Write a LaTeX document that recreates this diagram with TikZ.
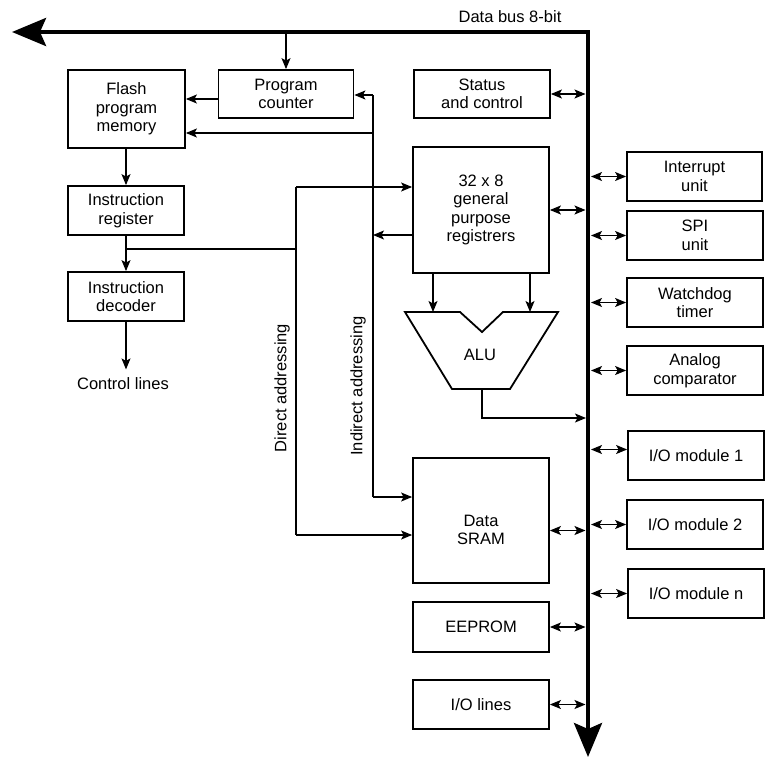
\documentclass[tikz,border=0pt]{standalone}
\usepackage{fontspec}
\setmainfont{Liberation Sans}
\usetikzlibrary{arrows.meta,positioning,calc}

\begin{document}
\begin{tikzpicture}[x=1pt,y=-1pt,
  txt/.style={font=\fontsize{16.5}{18.5}\selectfont,align=center},
  blk/.style={txt,draw,line width=1.8pt,inner sep=0pt,
              minimum width=136pt,minimum height=49pt},
  conn/.style={line width=1.2pt,-{Stealth[length=11pt,width=9pt,inset=2.5pt]}},
  wire/.style={line width=1.2pt},
  dbl/.style={line width=1.2pt,{Stealth[length=11pt,width=9pt,inset=2.5pt]}-{Stealth[length=11pt,width=9pt,inset=2.5pt]}},
  busline/.style={line width=4pt,line join=miter,
                  {Stealth[length=34pt,width=28pt,inset=6pt]}-{Stealth[length=34pt,width=28pt,inset=6pt]}}
]
  \useasboundingbox (0,0) rectangle (776,763);

  \coordinate (busL) at (12,32);
  \coordinate (busC) at (588,32);
  \coordinate (busB) at (588,757);
  \draw[busline] (busL) -- (busC) -- (busB);
  \node[txt] (buslab) at (510,17) {Data bus 8-bit};

  \node[blk,minimum width=117pt,minimum height=78pt] (flash) at (126.5,109) {Flash\\program\\memory};
  \node[blk,minimum width=135pt,minimum height=48pt] (pc) at (286,94) {Program\\counter};
  \node[blk,minimum height=48pt] (stat) at (482,94) {Status\\and control};
  \node[blk,minimum width=116pt] (ir) at (126,210.5) {Instruction\\register};
  \node[blk,minimum width=116pt] (idec) at (126,296.5) {Instruction\\decoder};
  \node[txt] (ctl) at (123,384) {Control lines};

  \node[blk,minimum height=126pt] (regs) at (481,210) {32 x 8\\general\\purpose\\registrers};
  \node[blk,minimum height=125pt] (sram) at (481,520.5) {};
  \node[txt] (sramtxt) at (481,530) {Data\\SRAM};
  \node[blk,minimum height=50pt] (eep) at (481,627) {EEPROM};
  \node[blk] (iol) at (481,704.5) {I/O lines};

  \node[blk,minimum width=135pt] (intr) at (694.5,176.5) {Interrupt\\unit};
  \node[blk] (spi) at (695,235.5) {SPI\\unit};
  \node[blk] (wdt) at (695,302.5) {Watchdog\\timer};
  \node[blk] (acmp) at (695,370.5) {Analog\\comparator};
  \node[blk] (io1) at (696,455.5) {I/O module 1};
  \node[blk] (io2) at (695,524.5) {I/O module 2};
  \node[blk] (ion) at (696,593.5) {I/O module n};

  % ALU
  \draw[line width=1.8pt,line join=miter] (405,312) -- (460,312) -- (482,332) -- (503,312)
    -- (558,312) -- (510,389) -- (452,389) -- cycle;
  \node[txt] (alu) at (480,355) {ALU};
  \coordinate (alul) at (433,312);
  \coordinate (alur) at (530,312);
  \coordinate (aluo) at (482,389);
  \coordinate (aluend) at (586,418);

  \coordinate (indtop) at (373,95);
  \coordinate (indfl) at (373,133);
  \coordinate (indbot) at (373,497);
  \coordinate (dirtop) at (296,187);
  \coordinate (dirjn) at (296,249);
  \coordinate (dirbot) at (296,535);

  \node[txt,rotate=90] (dirlab) at (282,388) {Direct addressing};
  \node[txt,rotate=90] (indlab) at (358,386) {Indirect addressing};

  \draw[conn] (pc.north |- busL) -- (pc.north);
  \draw[conn] ([yshift=-5pt]pc.west) -- ([yshift=-5pt]pc.west -| flash.east);
  \draw[conn] (ir.north |- flash.south) -- (ir.north);
  \draw[conn] (ir.south) -- (idec.north);
  \draw[conn,shorten >=5pt] (idec.south) -- (idec.south |- ctl.north);

  \draw[wire] (indtop) -- (indbot);
  \draw[conn] (indtop) -- (indtop -| pc.east);
  \draw[conn] (indfl) -- (indfl -| flash.east);
  \draw[conn] (indbot) -- (indbot -| sram.west);
  \draw[conn] ([yshift=-25pt]regs.west) -- ([yshift=-25pt]regs.west -| indtop);

  \draw[wire] (dirtop) -- (dirbot);
  \draw[wire] (ir.south |- dirjn) -- (dirjn);
  \draw[conn] (dirtop) -- (dirtop -| regs.west);
  \draw[conn] (dirbot) -- (dirbot -| sram.west);

  \draw[conn] (regs.south -| alul) -- (alul);
  \draw[conn] (regs.south -| alur) -- (alur);
  \draw[conn] (aluo) |- (aluend);

  \foreach \n in {stat,regs,eep,iol}
    \draw[dbl,shorten >=2.5pt] (\n.east) -- (\n.east -| busC);
  \draw[dbl,shorten >=2.5pt] ([yshift=-10pt]sram.east) -- ([yshift=-10pt]sram.east -| busC);
  \foreach \n in {intr,spi,wdt,acmp,io2,ion}
    \draw[dbl,shorten <=3pt] (\n.west -| busC) -- (\n.west);
  \draw[dbl,shorten <=3pt] ([yshift=6pt]io1.west -| busC) -- ([yshift=6pt]io1.west);
\end{tikzpicture}
\end{document}
